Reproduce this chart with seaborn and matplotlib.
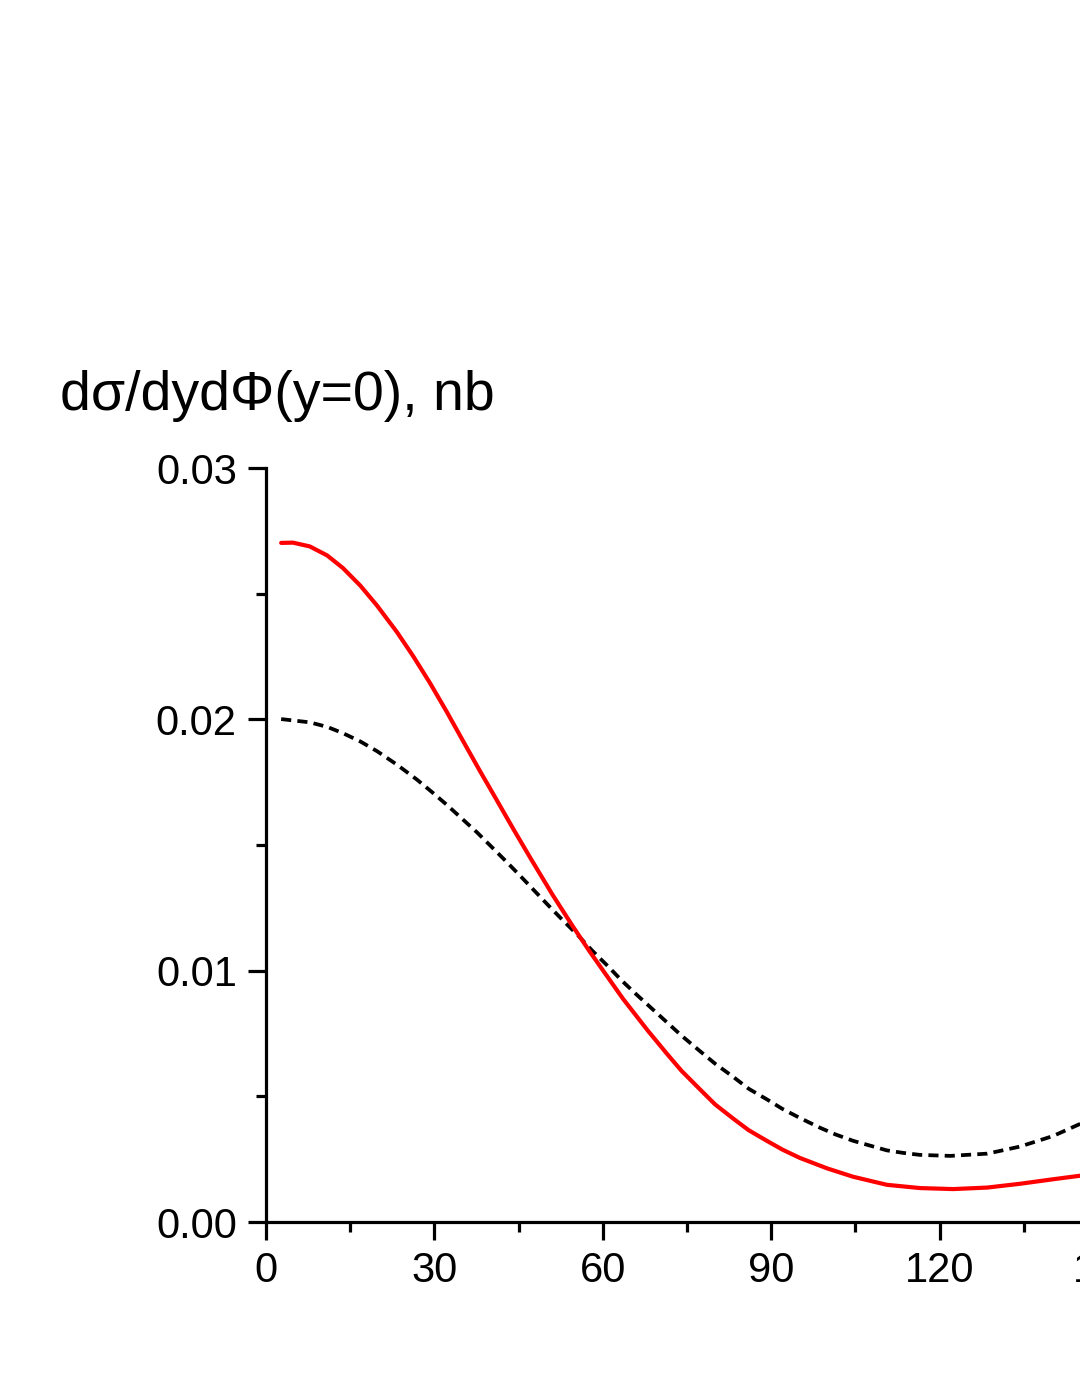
import matplotlib
matplotlib.use('Agg')
import matplotlib.pyplot as plt
import pandas as pd
import seaborn as sns
from matplotlib.ticker import MultipleLocator, FormatStrFormatter

# (angle in degrees, cross section in nb)
red_phi = [2.7, 4.8, 7.8, 10.9, 13.7, 16.8, 19.8, 23.3, 26.2, 29.2, 32.2, 35.1,
           38.1, 41.2, 44.0, 47.0, 51.1, 54.7, 57.7, 63.6, 68.0, 71.4, 74.0, 77.3,
           80.0, 83.2, 86.0, 89.3, 92.0, 95.1, 100.0, 104.6, 110.6, 116.5, 122.4,
           128.5, 134.3, 140.2, 145.0, 148.0]
red_val = [0.02702, 0.02703, 0.02688, 0.02652, 0.02602, 0.02532, 0.02452, 0.02348,
           0.02252, 0.02145, 0.02030, 0.01914, 0.01795, 0.01675, 0.01566, 0.01452,
           0.01300, 0.01175, 0.01075, 0.00888, 0.00762, 0.00670, 0.00602, 0.00528,
           0.00468, 0.00412, 0.00365, 0.00322, 0.00288, 0.00255, 0.00213, 0.00180,
           0.00148, 0.00135, 0.00131, 0.00137, 0.00152, 0.00170, 0.00184, 0.00192]

black_phi = [2.7, 7.8, 10.9, 13.7, 16.8, 19.8, 23.3, 26.9, 29.6, 32.2, 34.9, 37.6,
             40.3, 42.9, 45.6, 47.9, 50.2, 52.9, 55.6, 58.1, 60.9, 63.4, 66.1, 71.4,
             74.0, 77.3, 80.0, 83.2, 86.0, 89.3, 92.0, 95.1, 98.7, 101.5, 104.6,
             110.6, 113.5, 116.5, 121.9, 128.5, 134.3, 140.2, 145.0, 148.0]
black_val = [0.02001, 0.01988, 0.01970, 0.01945, 0.01912, 0.01873, 0.01820, 0.01760,
             0.01710, 0.01660, 0.01605, 0.01550, 0.01490, 0.01432, 0.01370, 0.01316,
             0.01262, 0.01200, 0.01140, 0.01080, 0.01018, 0.00960, 0.00903, 0.00795,
             0.00742, 0.00680, 0.00630, 0.00578, 0.00530, 0.00487, 0.00450, 0.00414,
             0.00375, 0.00348, 0.00323, 0.00285, 0.00275, 0.00267, 0.00263, 0.00272,
             0.00300, 0.00342, 0.00390, 0.00425]

x_ticks = [0, 30, 60, 90, 120, 150, 180]
y_ticks = [0.00, 0.01, 0.02, 0.03]

df_red = pd.DataFrame({'phi': red_phi, 'value': red_val})
df_black = pd.DataFrame({'phi': black_phi, 'value': black_val})

sns.set_style('ticks')
plt.rcParams['font.family'] = ['Liberation Sans', 'DejaVu Sans']

fig = plt.figure(figsize=(10.8, 13.97), dpi=100)
# the axes run past the right edge of the figure, like the cropped original
ax = fig.add_axes([266 / 1080, 1 - 1222 / 1397, 1010.4 / 1080, (1222 - 468) / 1397])

sns.lineplot(data=df_black, x='phi', y='value', ax=ax, color='black',
             linewidth=2.7, linestyle=(0, (2.7, 1.65)), sort=False)
sns.lineplot(data=df_red, x='phi', y='value', ax=ax, color='#ff0000',
             linewidth=3.0, sort=False)

ax.set_xlim(0, 180)
ax.set_ylim(0, 0.03)
ax.set_xticks(x_ticks)
ax.set_yticks(y_ticks)
ax.xaxis.set_minor_locator(MultipleLocator(15))
ax.yaxis.set_minor_locator(MultipleLocator(0.005))
ax.yaxis.set_major_formatter(FormatStrFormatter('%.2f'))
ax.set_xlabel('')
ax.set_ylabel('')

for side in ['top', 'right']:
    ax.spines[side].set_visible(False)
for side in ['left', 'bottom']:
    ax.spines[side].set_linewidth(2.3)
    ax.spines[side].set_color('black')

ax.tick_params(which='major', direction='out', length=13, width=2.3,
               labelsize=30, colors='black', pad=8)
ax.tick_params(which='minor', direction='out', length=7, width=2.3, colors='black')

fig.text(60 / 1080, 1 - 410 / 1397, 'd\u03c3/dyd\u03a6(y=0), nb', fontsize=40,
         ha='left', va='baseline', color='black')

fig.savefig('out.png', dpi=100, facecolor='white')
